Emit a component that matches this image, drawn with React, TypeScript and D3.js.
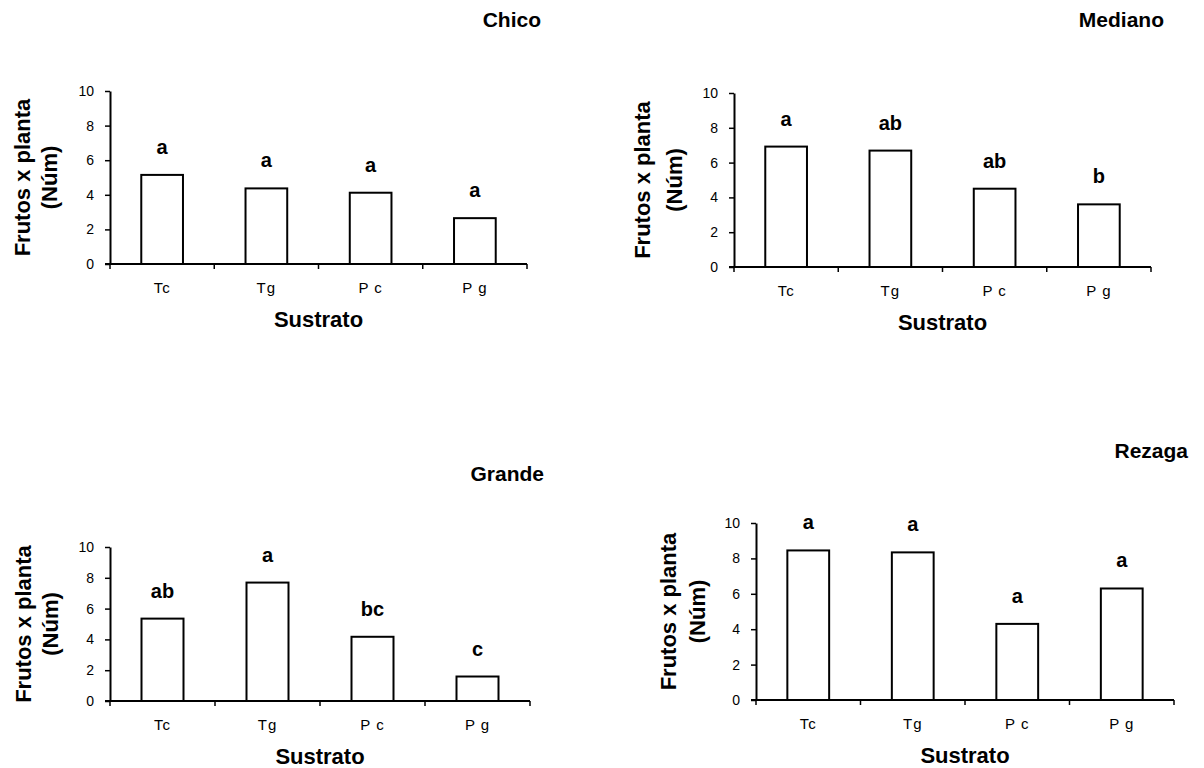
import React, { useEffect, useRef } from "react";
import * as d3 from "d3";

// categories and tick values
const categories = ["Tc", "Tg", "P c", "P g"];
const yTicks = [0, 2, 4, 6, 8, 10];

// fruits per plant by substrate
const chicoValues = [5.15, 4.37, 4.12, 2.65];
const chicoLetters = ["a", "a", "a", "a"];
const medianoValues = [6.92, 6.69, 4.5, 3.6];
const medianoLetters = ["a", "ab", "ab", "b"];
const grandeValues = [5.35, 7.69, 4.17, 1.59];
const grandeLetters = ["ab", "a", "bc", "c"];
const rezagaValues = [8.45, 8.34, 4.3, 6.3];
const rezagaLetters = ["a", "a", "a", "a"];

const yLabel1 = "Frutos x planta";
const yLabel2 = "(Núm)";
const xLabel = "Sustrato";

// panel placement on the page
const panels = [
  { title: "Chico", values: chicoValues, letters: chicoLetters,
    left: 110, right: 527, top: 91, bottom: 264, titleX: 541, titleY: 27, lab1: 30, lab2: 57 },
  { title: "Mediano", values: medianoValues, letters: medianoLetters,
    left: 734, right: 1151, top: 93, bottom: 267, titleX: 1164, titleY: 27, lab1: 650, lab2: 682 },
  { title: "Grande", values: grandeValues, letters: grandeLetters,
    left: 110, right: 530, top: 547, bottom: 701, titleX: 544, titleY: 481, lab1: 31, lab2: 58 },
  { title: "Rezaga", values: rezagaValues, letters: rezagaLetters,
    left: 756, right: 1174, top: 523, bottom: 700, titleX: 1188, titleY: 458, lab1: 676, lab2: 705 },
];

const FONT = "'Liberation Sans', Arial, sans-serif";

export default function App() {
  const svgRef = useRef<SVGSVGElement | null>(null);

  useEffect(() => {
    const svg = d3.select(svgRef.current);
    svg.selectAll("*").remove();

    panels.forEach(p => {
      const g = svg.append("g");

      const x = d3.scaleBand<string>()
        .domain(categories)
        .range([p.left, p.right])
        .padding(0);
      const y = d3.scaleLinear().domain([0, 10]).range([p.bottom, p.top]);
      const barW = x.bandwidth() * 0.4;

      // bars, significance letters and category labels
      categories.forEach((c, i) => {
        const cx = (x(c) as number) + x.bandwidth() / 2;
        g.append("rect")
          .attr("x", cx - barW / 2)
          .attr("y", y(p.values[i]))
          .attr("width", barW)
          .attr("height", y(0) - y(p.values[i]))
          .attr("fill", "#fff")
          .attr("stroke", "#000")
          .attr("stroke-width", 2);

        g.append("text")
          .attr("x", cx)
          .attr("y", y(p.values[i]) - 21)
          .attr("text-anchor", "middle")
          .attr("font-family", FONT)
          .attr("font-weight", "bold")
          .attr("font-size", 20)
          .text(p.letters[i]);

        g.append("text")
          .attr("x", cx)
          .attr("y", p.bottom + 29)
          .attr("text-anchor", "middle")
          .attr("font-family", FONT)
          .attr("font-size", 15)
          .attr("letter-spacing", 1)
          .text(c);
      });

      // y axis
      const yAxis = g.append("g")
        .attr("transform", `translate(${p.left},0)`)
        .call(d3.axisLeft(y).tickValues(yTicks).tickSize(5).tickSizeOuter(0).tickPadding(11));
      yAxis.select(".domain").attr("stroke-width", 2);
      yAxis.selectAll(".tick line").attr("stroke-width", 1.5);
      yAxis.selectAll("text").attr("font-family", FONT).attr("font-size", 14).attr("fill", "#000");

      // x axis with ticks between categories
      g.append("line")
        .attr("x1", p.left - 5).attr("x2", p.right)
        .attr("y1", p.bottom).attr("y2", p.bottom)
        .attr("stroke", "#000").attr("stroke-width", 2);
      const bounds = categories.map(c => x(c) as number).concat([p.right]);
      bounds.forEach(b => {
        g.append("line")
          .attr("x1", b).attr("x2", b)
          .attr("y1", p.bottom).attr("y2", p.bottom + 5)
          .attr("stroke", "#000").attr("stroke-width", 1.5);
      });

      // axis titles
      g.append("text")
        .attr("x", (p.left + p.right) / 2)
        .attr("y", p.bottom + 63)
        .attr("text-anchor", "middle")
        .attr("font-family", FONT)
        .attr("font-weight", "bold")
        .attr("font-size", 22)
        .text(xLabel);

      const cy = (p.top + p.bottom) / 2;
      [[yLabel1, p.lab1], [yLabel2, p.lab2]].forEach(([t, lx]) => {
        g.append("text")
          .attr("transform", `translate(${lx},${cy}) rotate(-90)`)
          .attr("text-anchor", "middle")
          .attr("font-family", FONT)
          .attr("font-weight", "bold")
          .attr("font-size", 22)
          .text(t as string);
      });

      // panel title
      g.append("text")
        .attr("x", p.titleX)
        .attr("y", p.titleY)
        .attr("text-anchor", "end")
        .attr("font-family", FONT)
        .attr("font-weight", "bold")
        .attr("font-size", 21)
        .text(p.title);
    });
  }, []);

  return (
    <svg
      ref={svgRef}
      width={1204}
      height={768}
      style={{ position: "absolute", left: 0, top: 0, background: "#fff" }}
    />
  );
}
